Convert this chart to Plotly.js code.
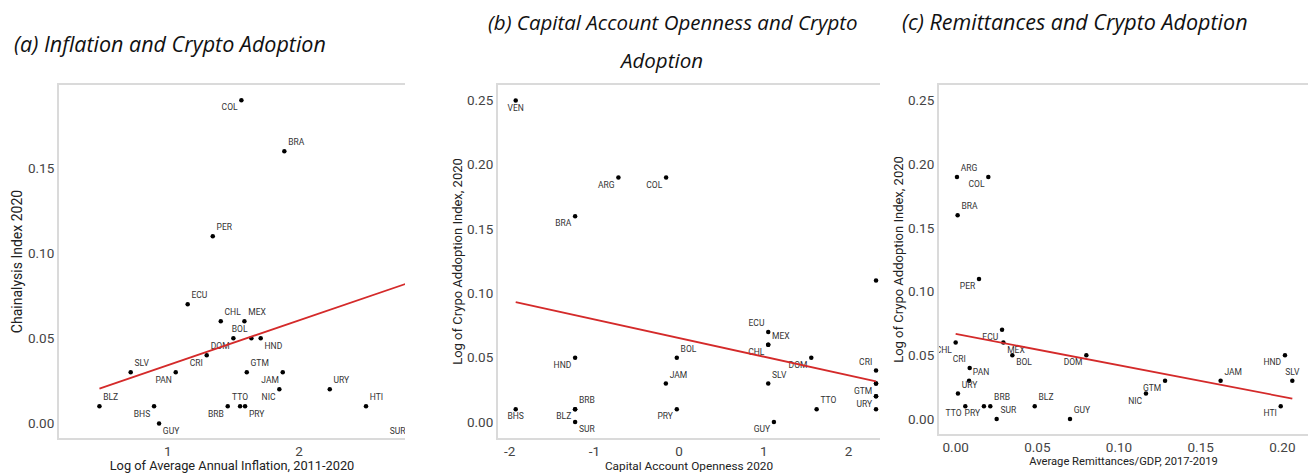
<!DOCTYPE html>
<html>
<head>
<meta charset="utf-8">
<script src="https://cdn.plot.ly/plotly-3.0.1.min.js"></script>
<style>
  html, body { margin: 0; padding: 0; background: #fff; }
  #chart { width: 1308px; height: 473px; }
</style>
</head>
<body>
<div id="chart"></div>
<script>
// ---------- Panel (a): Inflation vs Chainalysis index ----------
const countriesA = ['COL','BRA','PER','ECU','CHL','MEX','BOL','DOM','HND','CRI','SLV','PAN','GTM','JAM','NIC','URY','BLZ','BHS','BRB','TTO','PRY','HTI','GUY','SUR'];
const inflationA = [1.561,1.888,1.343,1.152,1.404,1.584,1.637,1.500,1.708,1.297,0.718,1.061,1.602,1.876,1.850,2.234,0.480,0.896,1.457,1.551,1.589,2.510,0.934,2.840];
const indexA     = [0.19,0.16,0.11,0.07,0.06,0.06,0.05,0.05,0.05,0.04,0.03,0.03,0.03,0.03,0.02,0.02,0.01,0.01,0.01,0.01,0.01,0.01,0.00,0.00];
const fitA = { intercept: 0.0078, slope: 0.0264 };

// ---------- Panel (b): Capital account openness ----------
const countriesB = ['VEN','ARG','COL','BRA','PER','ECU','MEX','CHL','BOL','HND','DOM','CRI','SLV','JAM','PAN','GTM','NIC','URY','HTI','SUR','BRB','BLZ','BHS','PRY','GUY','TTO'];
const opennessB  = [-1.929,-0.717,-0.154,-1.228,2.323,1.051,1.051,1.051,-0.028,-1.228,1.559,2.323,1.051,-0.157,2.323,2.323,2.323,2.323,2.323,-1.228,-1.228,-1.228,-1.929,-0.028,1.118,1.622];
const indexB     = [0.25,0.19,0.19,0.16,0.11,0.07,0.06,0.06,0.05,0.05,0.05,0.04,0.03,0.03,0.03,0.03,0.02,0.02,0.01,0.00,0.01,0.01,0.01,0.01,0.00,0.01];
const fitB = { intercept: 0.0653, slope: -0.01451 };

// ---------- Panel (c): Remittances ----------
const countriesC = ['ARG','COL','BRA','PER','ECU','MEX','CHL','BOL','DOM','HND','CRI','PAN','URY','TTO','PRY','BRB','SUR','BLZ','GUY','NIC','GTM','JAM','SLV','HTI'];
const remitC     = [0.0008,0.020,0.0012,0.0143,0.0284,0.0292,0.000,0.0347,0.080,0.2016,0.0086,0.0082,0.0014,0.0059,0.0173,0.0212,0.0251,0.0484,0.070,0.1165,0.1282,0.1622,0.2061,0.199];
const indexC     = [0.19,0.19,0.16,0.11,0.07,0.06,0.06,0.05,0.05,0.05,0.04,0.03,0.02,0.01,0.01,0.01,0.00,0.01,0.00,0.02,0.03,0.03,0.03,0.01];
const fitC = { intercept: 0.0668, slope: -0.2465 };

// ---------- Tick labels ----------
const ticksAx = [1, 2];             const tickTextAx = ['1', '2'];
const ticksAy = [0, 0.05, 0.10, 0.15];   const tickTextAy = ['0.00','0.05','0.10','0.15'];
const ticksBx = [-2, -1, 0, 1, 2];  const tickTextBx = ['-2','-1','0','1','2'];
const ticksBy = [0, 0.05, 0.10, 0.15, 0.20, 0.25]; const tickTextBy = ['0.00','0.05','0.10','0.15','0.20','0.25'];
const ticksCx = [0, 0.05, 0.10, 0.15, 0.20]; const tickTextCx = ['0.00','0.05','0.10','0.15','0.20'];
const ticksCy = [0, 0.05, 0.10, 0.15, 0.20, 0.25]; const tickTextCy = ['0.00','0.05','0.10','0.15','0.20','0.25'];

// label placement (style, not data)
const posA = ['bottom left','top right','top right','top right','top right','top right','top left','bottom left','bottom right','bottom left','top right','bottom left','top right','bottom left','bottom left','top right','top right','bottom left','bottom left','top center','bottom right','top right','bottom right','bottom left'];
const posB = ['bottom center','bottom left','bottom left','bottom left','top right','top left','top right','bottom left','top right','bottom left','bottom left','top left','top right','top right','top right','bottom left','top right','bottom left','bottom right','bottom right','top right','bottom left','bottom center','bottom left','bottom left','top right'];
const posC = ['top right','bottom left','top right','bottom left','bottom left','bottom right','bottom left','bottom right','bottom left','bottom left','top left','top right','top right','bottom left','bottom left','top right','top right','top right','top right','bottom left','bottom left','top right','top center','bottom left'];

const narrow = 'Roboto, "Liberation Sans", sans-serif';
const lblFont = { family: narrow, size: 8.5, color: '#333' };

function scatter(x, y, names, pos, xa, ya) {
  return { type: 'scatter', mode: 'markers+text', x: x, y: y, text: names,
           textposition: pos, textfont: lblFont, cliponaxis: true,
           marker: { color: '#000', size: 4.5 }, xaxis: xa, yaxis: ya,
           hoverinfo: 'text', showlegend: false };
}
function fitLine(x, fit, xa, ya) {
  const x0 = Math.min(...x), x1 = Math.max(...x);
  return { type: 'scatter', mode: 'lines', x: [x0, x1],
           y: [fit.intercept + fit.slope * x0, fit.intercept + fit.slope * x1],
           line: { color: '#d42a2a', width: 1.8 }, xaxis: xa, yaxis: ya,
           hoverinfo: 'skip', showlegend: false };
}

const data = [
  scatter(inflationA, indexA, countriesA, posA, 'x', 'y'),
  fitLine(inflationA, fitA, 'x', 'y'),
  scatter(opennessB, indexB, countriesB, posB, 'x2', 'y2'),
  fitLine(opennessB, fitB, 'x2', 'y2'),
  scatter(remitC, indexC, countriesC, posC, 'x3', 'y3'),
  fitLine(remitC, fitC, 'x3', 'y3')
];

const W = 1308, H = 473;
const px = v => v / W, py = v => 1 - v / H;
const tickFont = { family: narrow, size: 13.5, color: '#444' };
const lineCol = '#dadada';

function xax(dom, range, tv, tt, title, stand, size) {
  return { domain: dom, range: range, tickvals: tv, ticktext: tt, tickfont: tickFont,
           showgrid: false, zeroline: false, showline: true, linecolor: lineCol, linewidth: 2,
           mirror: true, ticks: '', ticklen: 0, automargin: false, fixedrange: true,
           title: { text: title, font: { family: narrow, size: size, color: '#222' }, standoff: stand } };
}
function yax(dom, range, tv, tt, title, stand, size, anchor) {
  return { domain: dom, range: range, tickvals: tv, ticktext: tt, tickfont: tickFont,
           showgrid: false, zeroline: false, showline: true, linecolor: lineCol, linewidth: 2,
           ticks: '', ticklen: 0, automargin: false, fixedrange: true, anchor: anchor,
           title: { text: title, font: { family: narrow, size: size, color: '#222' }, standoff: stand } };
}

const titleFont = { family: '"Open Sans", "Noto Sans", sans-serif', size: 21.5, color: '#111' };
const titleFontB = { family: '"Open Sans", "Noto Sans", sans-serif', size: 20.5, color: '#111' };

const layout = {
  width: W, height: H,
  margin: { l: 0, r: 0, t: 0, b: 0 },
  paper_bgcolor: '#fff', plot_bgcolor: '#fff',
  showlegend: false,
  xaxis:  Object.assign(xax([px(59), px(405)], [0.172, 2.807], ticksAx, tickTextAx, 'Log of Average Annual Inflation, 2011-2020', 4, 12.8), { anchor: 'y' }),
  yaxis:  yax([py(438), py(85)], [-0.0086, 0.199], ticksAy, tickTextAy, 'Chainalysis Index 2020', 2, 14, 'x'),
  xaxis2: Object.assign(xax([px(498), px(880)], [-2.138, 2.370], ticksBx, tickTextBx, 'Capital Account Openness 2020', 3, 11.8), { anchor: 'y2' }),
  yaxis2: yax([py(438), py(85)], [-0.0124, 0.262], ticksBy, tickTextBy, 'Log of Crypo Addoption Index, 2020', 1, 13, 'x2'),
  xaxis3: Object.assign(xax([px(939), 1], [-0.0102, 0.2157], ticksCx, tickTextCx, 'Average Remittances/GDP, 2017-2019', 1, 11.2), { anchor: 'y3' }),
  yaxis3: yax([py(434), py(85)], [-0.0118, 0.2623], ticksCy, tickTextCy, 'Log of Crypo Addoption Index, 2020', 1, 13, 'x3'),
  annotations: [
    { text: '<i>(a) Inflation and Crypto Adoption</i>', xref: 'paper', yref: 'paper',
      x: px(12), y: py(43), xanchor: 'left', yanchor: 'middle', showarrow: false, font: titleFont },
    { text: '<i>(b) Capital Account Openness and Crypto</i>', xref: 'paper', yref: 'paper',
      x: px(673), y: py(22), xanchor: 'center', yanchor: 'middle', showarrow: false, font: titleFontB },
    { text: '<i>Adoption</i>', xref: 'paper', yref: 'paper',
      x: px(661), y: py(60), xanchor: 'center', yanchor: 'middle', showarrow: false, font: titleFontB },
    { text: '<i>(c) Remittances and Crypto Adoption</i>', xref: 'paper', yref: 'paper',
      x: px(900), y: py(22), xanchor: 'left', yanchor: 'middle', showarrow: false, font: titleFont }
  ]
};

Plotly.newPlot('chart', data, layout, { displayModeBar: false, staticPlot: true });
</script>
</body>
</html>
